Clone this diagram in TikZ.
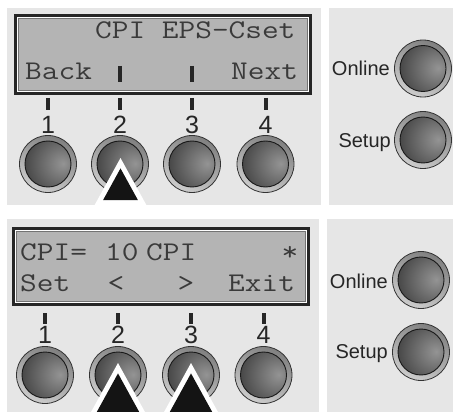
\documentclass[tikz,border=0pt]{standalone}
\usepackage{fontspec}
\setmainfont{Liberation Sans}
\newfontfamily\lcdfont{Latin Modern Mono}[FakeStretch=1.2]
\newfontfamily\keyfont{Liberation Sans}
\usetikzlibrary{positioning}

\definecolor{panelgray}{HTML}{E6E6E6}
\definecolor{lcdgray}{HTML}{B4B4B4}
\definecolor{lcdink}{HTML}{3A3A3A}
\pgfdeclareradialshading{knobcore}{\pgfpoint{12bp}{6bp}}{color(0bp)=(black!42); color(16bp)=(black!58); color(38bp)=(black!80); color(60bp)=(black!88); color(100bp)=(black!88)}

% white wedge with black inner wedge below a pressed key
\newcommand{\pointer}[4]{%
  \fill[white] (#1,#2) -- (#1-0.55*#3+0.55*#2,#3) -- (#1+0.55*#3-0.55*#2,#3) -- cycle;
  \fill[black!92] (#1,#2+10.4) -- (#1-0.55*#4+0.55*#2+5.72,#4) -- (#1+0.55*#4-0.55*#2-5.72,#4) -- cycle;
}

\begin{document}
\begin{tikzpicture}[x=1pt, y=-1pt,
    panel/.style={fill=panelgray},
    lcdtxt/.style={font=\lcdfont\fontsize{27}{29}\selectfont, text=lcdink, inner sep=0pt, anchor=base west},
    keynum/.style={font=\keyfont\fontsize{25}{26}\selectfont, text=black!85, inner sep=0pt, anchor=base},
    keylbl/.style={font=\keyfont\fontsize{20}{22}\selectfont, text=black!85, inner sep=0pt, anchor=base east},
    tick/.style={line width=4pt, black!85},
    knob/.style={circle, minimum size=57pt, inner sep=0pt, draw=black!80, line width=0.8pt,
      top color=black!50, bottom color=black!20, shading angle=-25,
      path picture={\shadedraw[shading=knobcore, draw=black!90, line width=0.9pt]
        (path picture bounding box.center) circle[radius=23pt];}}
  ]
  \useasboundingbox (0,0) rectangle (453,412);
  \fill[white] (0,0) rectangle (453,412);

  % panels
  \fill[panel] (7,8) rectangle (321,205);
  \fill[panel] (329,8) rectangle (453,205);
  \fill[panel] (7,219) rectangle (319,412);
  \fill[panel] (327,219) rectangle (453,412);

  % upper display
  \fill[black!85] (14,14) rectangle (312,95);
  \fill[white] (17,17) rectangle (309,92);
  \filldraw[fill=lcdgray, draw=black!55, line width=0.6pt] (18.5,18.5) rectangle (307.5,90.5);
  \node[lcdtxt] (menu) at (95,39) {CPI EPS-Cset};
  \node[lcdtxt] (back) at (25,80) {Back};
  \node[lcdtxt] (next) at (231,80) {Next};
  \draw[tick] (120,66) -- (120,82);
  \draw[tick] (192,66) -- (192,82);

  % lower display
  \fill[black!85] (12,227) rectangle (310,306);
  \fill[white] (15,230) rectangle (307,303);
  \filldraw[fill=lcdgray, draw=black!55, line width=0.6pt] (16.5,231.5) rectangle (305.5,301.5);
  \node[lcdtxt] (cpi) at (20,260) {CPI=};
  \node[lcdtxt] (val) at (105,260) {10};
  \node[lcdtxt] (unit) at (146,260) {CPI};
  \node[lcdtxt] (star) at (281.5,260) {*};
  \node[lcdtxt] (set) at (20,291) {Set};
  \node[lcdtxt] (less) at (107.5,291) {<};
  \node[lcdtxt] (more) at (177.5,291) {>};
  \node[lcdtxt] (exit) at (228,291) {Exit};

  % keys 1-4
  \foreach \i/\x in {1/48,2/120,3/192,4/265.5} {
    \draw[tick] (\x,98) -- (\x,110);
    \node[keynum] (un\i) at (\x,133) {\i};
    \node[knob] (uk\i) at (\x,164) {};
  }
  \foreach \i/\x in {1/45,2/118,3/191,4/263.5} {
    \draw[tick] (\x,313) -- (\x,324);
    \node[keynum] (ln\i) at (\x,343) {\i};
    \node[knob] (lk\i) at (\x,375) {};
  }

  % Online / Setup keys
  \node[knob] (uon) at (423,68.5) {};
  \node[knob] (usetup) at (423,140) {};
  \node[keylbl] at (390,76) {Online};
  \node[keylbl] at (391,147) {Setup};
  \node[knob] (lon) at (421,280) {};
  \node[knob] (lsetup) at (421,352) {};
  \node[keylbl] at (388,288) {Online};
  \node[keylbl] at (388,358) {Setup};

  % pressed keys
  \pointer{120.5}{158}{205}{200}
  \pointer{118}{363}{412}{412}
  \pointer{191}{363}{412}{412}
\end{tikzpicture}
\end{document}
